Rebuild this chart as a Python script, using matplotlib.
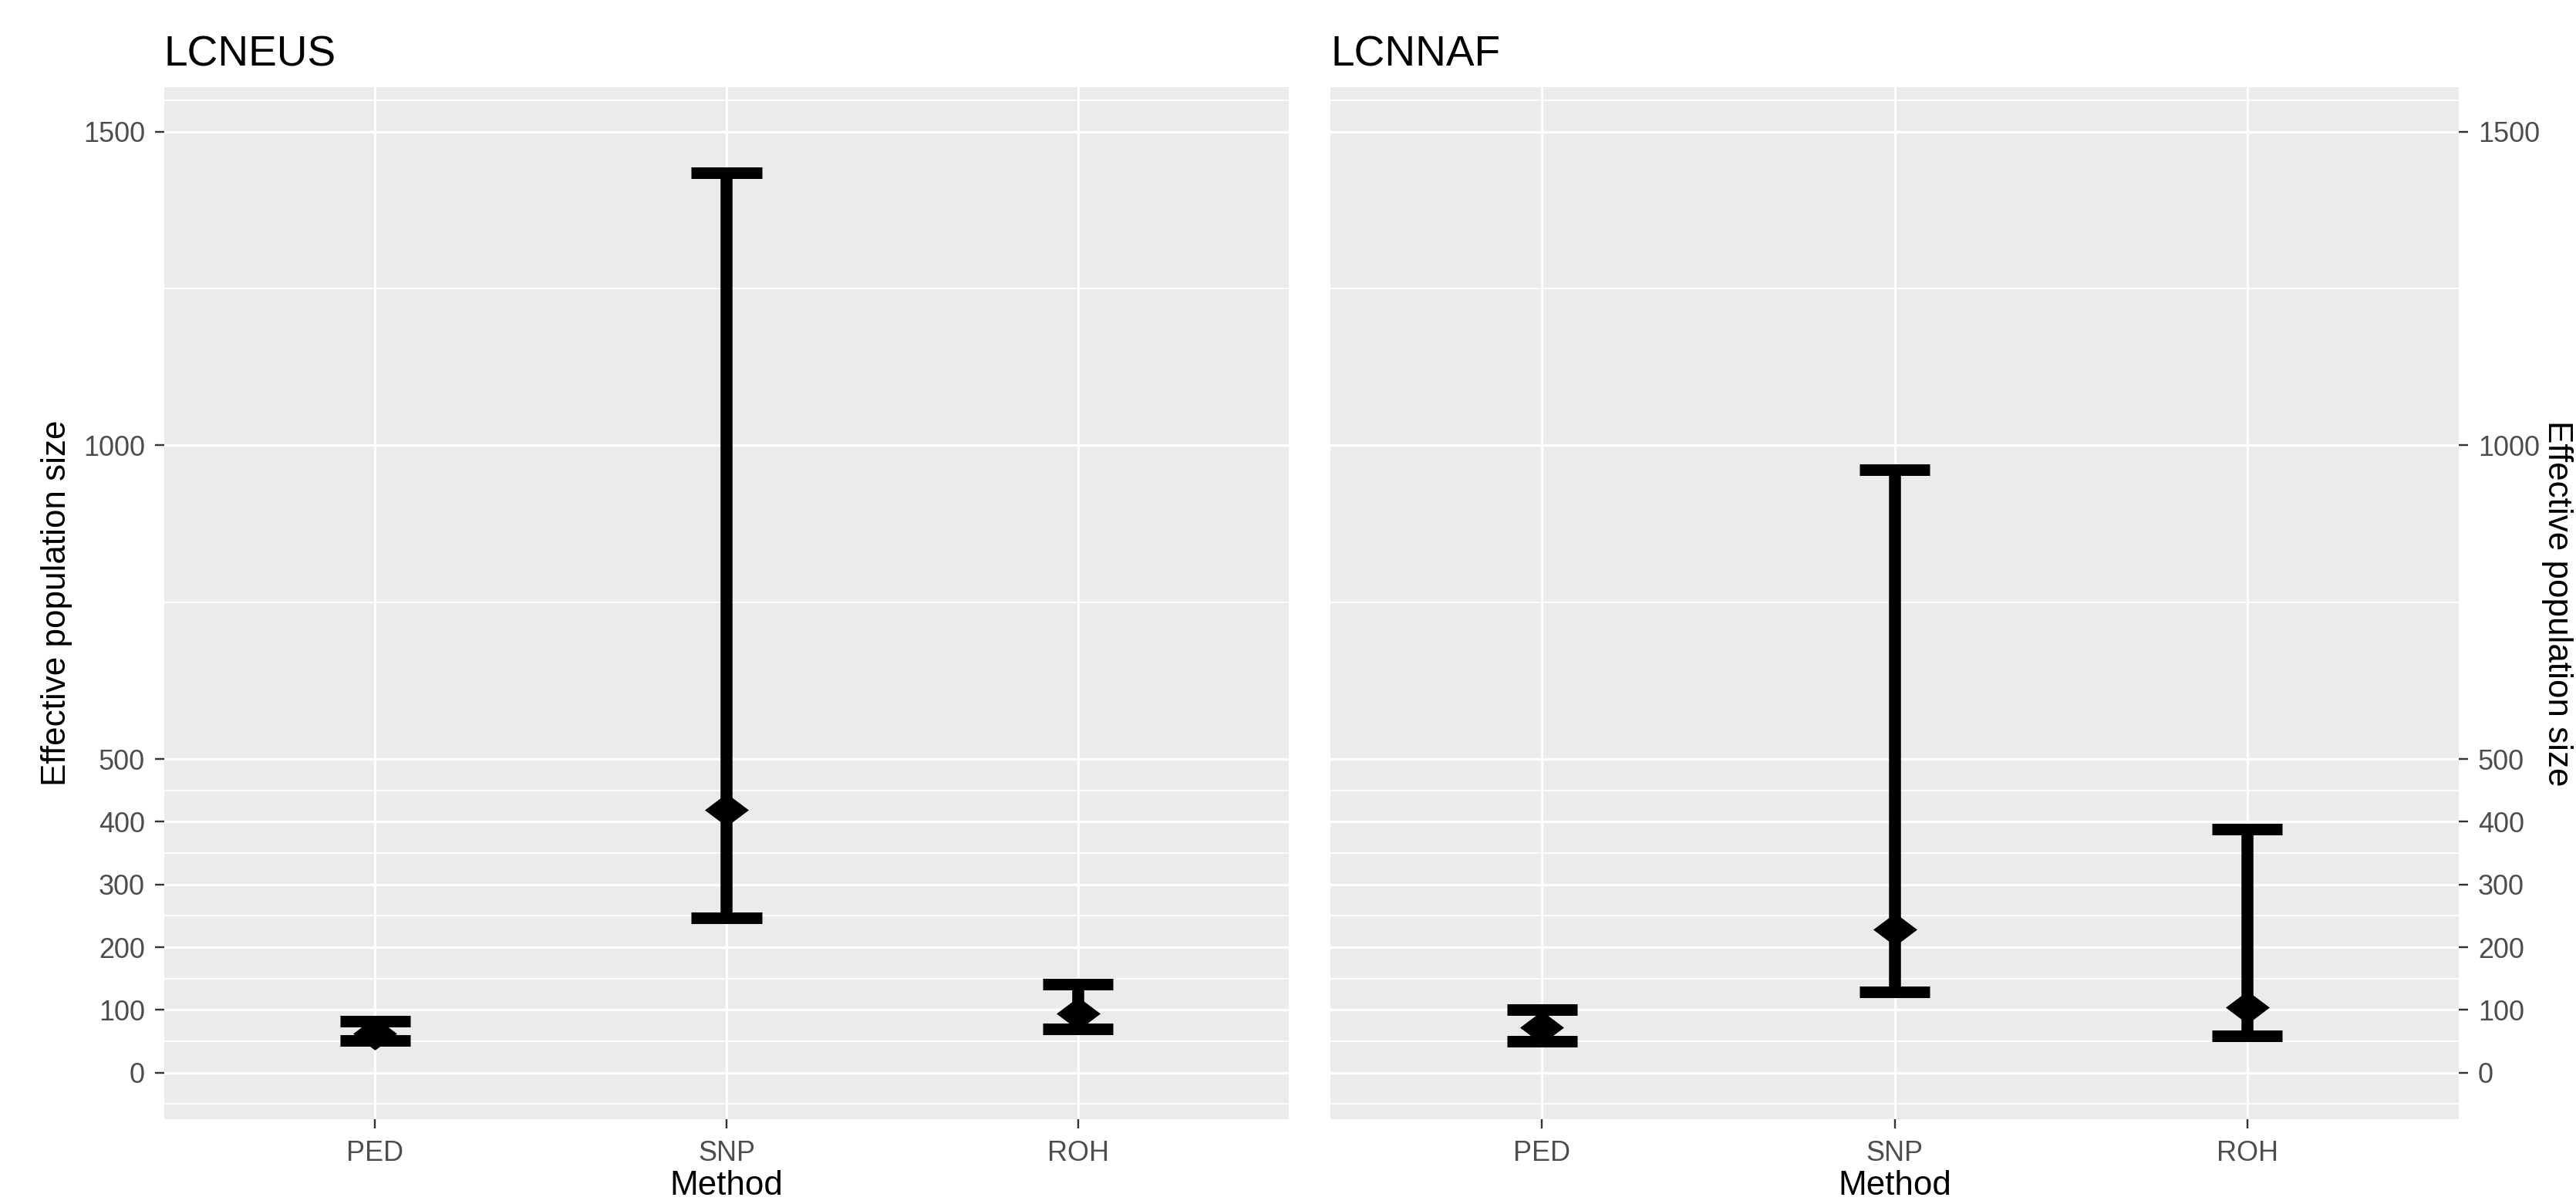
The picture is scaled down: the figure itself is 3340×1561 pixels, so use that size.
import numpy as np
import matplotlib
matplotlib.use("Agg")
import matplotlib.pyplot as plt
from matplotlib.path import Path

# Methods on the x axis and the y-axis breaks used in both panels
methods = ["PED", "SNP", "ROH"]
y_breaks = [0, 100, 200, 300, 400, 500, 1000, 1500]

# LCNEUS: point estimate and interval per method
neus_est = [62, 419, 95]
neus_lo = [51, 247, 70]
neus_hi = [82, 1434, 141]

# LCNNAF: point estimate and interval per method
naf_est = [72, 228, 104]
naf_lo = [50, 129, 59]
naf_hi = [100, 961, 388]

W, H = 3341, 1561
DPI = 100
PX = 72 / DPI  # points per pixel

plt.rcParams["font.family"] = ["Liberation Sans", "DejaVu Sans"]

fig = plt.figure(figsize=(W / DPI, H / DPI), dpi=DPI)
ax_l = fig.add_axes([213 / W, 1 - 1451 / H, 1458 / W, 1338 / H])
ax_r = fig.add_axes([1725 / W, 1 - 1451 / H, 1463 / W, 1338 / H])

# ggplot shape 18 style diamond (a bit wider than tall in the picture)
diamond = Path(
    [(-1, 0), (0, 0.75), (1, 0), (0, -0.75), (-1, 0)],
    [Path.MOVETO, Path.LINETO, Path.LINETO, Path.LINETO, Path.CLOSEPOLY],
)


def minor_breaks(b):
    # midpoints between breaks, extended one step at each end (like ggplot)
    step = b[1] - b[0]
    ext = [b[0] - step] + list(b) + [b[-1] + step]
    return [(a + c) / 2 for a, c in zip(ext[:-1], ext[1:])]


def draw_panel(ax, title, est, lo, hi):
    x = np.arange(1, len(methods) + 1)

    ax.set_facecolor("#EBEBEB")
    ax.set_axisbelow(True)
    ax.grid(True, which="major", color="white", linewidth=3.3 * PX)
    ax.grid(True, which="minor", axis="y", color="white", linewidth=1.8 * PX)

    # error bars
    ax.vlines(x, lo, hi, color="black", linewidth=15.5 * PX, capstyle="butt")
    ax.hlines(lo, x - 0.1, x + 0.1, color="black", linewidth=15 * PX, capstyle="butt")
    ax.hlines(hi, x - 0.1, x + 0.1, color="black", linewidth=15 * PX, capstyle="butt")
    ax.plot(x, est, linestyle="none", marker=diamond, markersize=57 * PX,
            color="black", markeredgewidth=0)

    ax.set_xticks(x, methods)
    ax.set_xlim(0.4, 3.6)
    ax.set_yticks(y_breaks)
    ax.set_yticks(minor_breaks(y_breaks), minor=True)
    ax.set_ylim(-74, 1571)

    ax.tick_params(which="minor", length=0)
    ax.tick_params(which="major", length=12 * PX, width=2.4 * PX, color="#333333",
                   labelcolor="#4D4D4D", labelsize=36 * PX)
    ax.tick_params(axis="x", pad=15 * PX)
    ax.tick_params(axis="y", pad=13 * PX)
    for s in ax.spines.values():
        s.set_visible(False)

    ax.set_title(title, loc="left", fontsize=55 * PX, pad=27 * PX)
    ax.set_xlabel("Method", fontsize=44 * PX)
    # keep the label just inside the bottom edge
    ax.xaxis.set_label_coords(0.5, -(1517 - 1451) / 1338)
    ax.set_ylabel("Effective population size", fontsize=44 * PX)


draw_panel(ax_l, "LCNEUS", neus_est, neus_lo, neus_hi)
ax_l.yaxis.set_label_coords(-0.0816, 0.5)

draw_panel(ax_r, "LCNNAF", naf_est, naf_lo, naf_hi)
ax_r.yaxis.tick_right()
ax_r.yaxis.set_label_position("right")
ax_r.yaxis.label.set_rotation(270)
ax_r.yaxis.label.set_verticalalignment("bottom")
ax_r.yaxis.label.set_rotation_mode("anchor")
ax_r.yaxis.set_label_coords(1.0732, 0.5)

fig.savefig("out.png", dpi=DPI)
